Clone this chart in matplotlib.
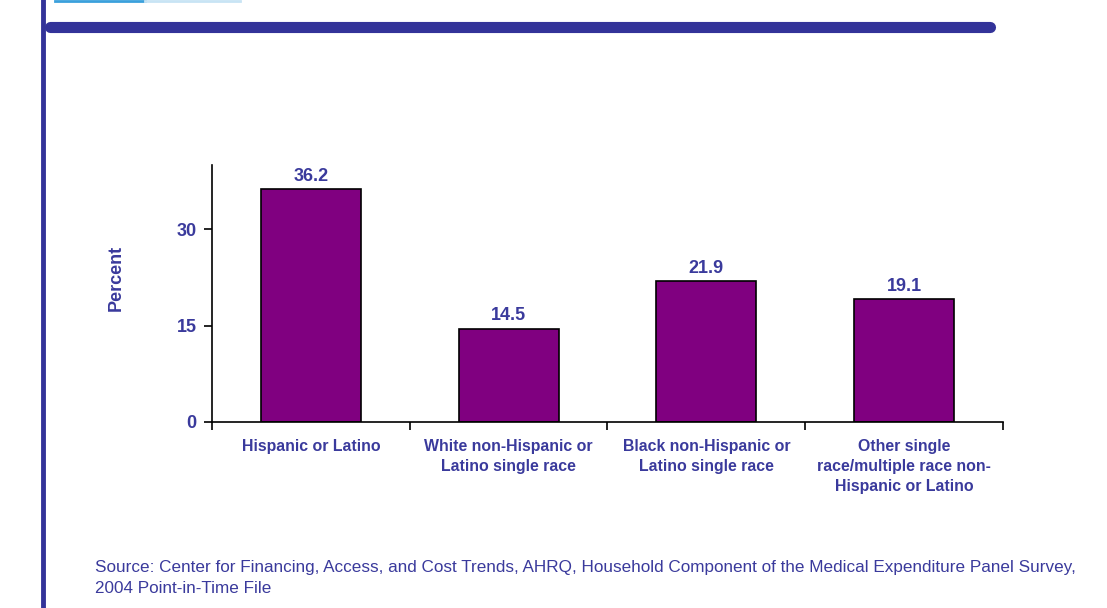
import matplotlib.pyplot as plt
import numpy as np
from matplotlib.lines import Line2D

categories = [
    "Hispanic or Latino",
    "White non-Hispanic or\nLatino single race",
    "Black non-Hispanic or\nLatino single race",
    "Other single\nrace/multiple race non-\nHispanic or Latino",
]
values = [36.2, 14.5, 21.9, 19.1]
yticks = [0, 15, 30]

TEXT = "#3a3a9c"
BAR = "#800080"
plt.rcParams["font.family"] = ["Liberation Sans", "DejaVu Sans"]

fig = plt.figure(figsize=(11.07, 6.08), dpi=100)
ax = fig.add_axes([0.1915, 0.306, 0.7145, 0.4227])

x = np.arange(len(values))
ax.bar(x, values, width=0.505, color=BAR, edgecolor="black", linewidth=1.2)
for xi, v in zip(x, values):
    ax.text(xi, v + 0.7, f"{v:.1f}", ha="center", va="bottom",
            fontsize=13, fontweight="bold", color=TEXT)

ax.set_xlim(-0.5, len(values) - 0.5)
ax.set_ylim(0, 40)
ax.set_yticks(yticks)
ax.set_yticklabels([str(t) for t in yticks], fontsize=13, fontweight="bold", color=TEXT)
ax.set_xticks(np.arange(-0.5, len(values)))
ax.set_xticklabels([])
ax.tick_params(axis="x", length=6, width=1.2, direction="out")
ax.tick_params(axis="y", length=6, width=1.2, direction="out", pad=5)
for xi, lab in zip(x, categories):
    ax.text(xi, -2.6, lab, ha="center", va="top", fontsize=11.4,
            fontweight="bold", color=TEXT, linespacing=1.42)

ax.spines["top"].set_visible(False)
ax.spines["right"].set_visible(False)
ax.spines["left"].set_linewidth(1.2)
ax.spines["bottom"].set_linewidth(1.2)
ax.set_ylabel("Percent", fontsize=13, fontweight="bold", color=TEXT)
ax.yaxis.set_label_coords(-0.11, 0.56)

# decorative frame lines
fig.add_artist(Line2D([43 / 1107, 43 / 1107], [0, 1], color="#333399", lw=3.5,
                      transform=fig.transFigure))
fig.add_artist(Line2D([50 / 1107, 990 / 1107], [1 - 27 / 608, 1 - 27 / 608],
                      color="#333399", lw=8, solid_capstyle="round",
                      transform=fig.transFigure))
fig.add_artist(Line2D([55 / 1107, 145 / 1107], [1 - 1 / 608, 1 - 1 / 608],
                      color="#3aa0dc", lw=2, transform=fig.transFigure))
fig.add_artist(Line2D([145 / 1107, 240 / 1107], [1 - 1 / 608, 1 - 1 / 608],
                      color="#c8e4f4", lw=2, transform=fig.transFigure))

fig.text(95 / 1107, 1 - 578 / 608,
         "Source: Center for Financing, Access, and Cost Trends, AHRQ, Household Component of the Medical Expenditure Panel Survey,\n2004 Point-in-Time File",
         ha="left", va="center", fontsize=12.3, color=TEXT, linespacing=1.45)

fig.savefig("out.png", dpi=100)
